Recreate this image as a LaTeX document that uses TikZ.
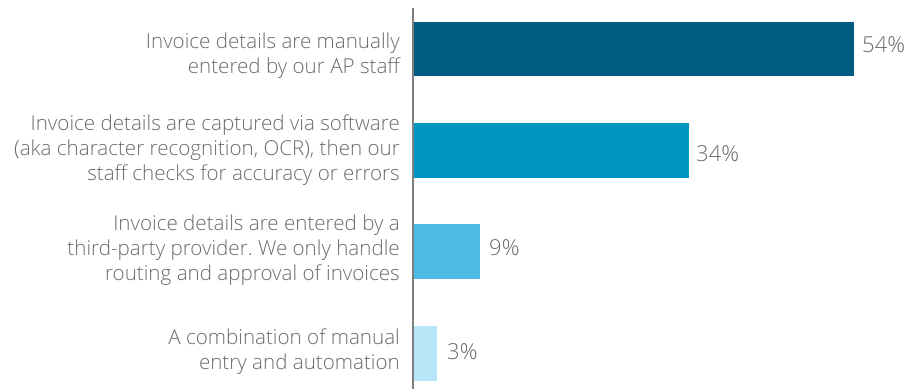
\documentclass[tikz,border=0pt]{standalone}
\usepackage{fontspec}
\setmainfont{Open Sans Light}
\frenchspacing
\definecolor{txt}{HTML}{6A6A6A}
\definecolor{axisgray}{HTML}{7F7F7F}
\definecolor{barA}{HTML}{005B82}
\definecolor{barB}{HTML}{0096C3}
\definecolor{barC}{HTML}{4DBAE4}
\definecolor{barD}{HTML}{B7E4F7}
\begin{document}
\begin{tikzpicture}[x=1pt,y=1pt,
  lbl/.style={anchor=north east,align=right,inner sep=0pt,text=txt,font=\fontsize{20.6}{25}\selectfont},
  pct/.style={anchor=base west,inner sep=0pt,text=txt,font=\fontsize{22}{26}\selectfont}]
\useasboundingbox (0,0) rectangle (912,389);
% bars
\fill[barA] (413,313) rectangle (854,367) coordinate (b1);
\fill[barB] (413,211) rectangle (689,266) coordinate (b2);
\fill[barC] (413,110) rectangle (480,165) coordinate (b3);
\fill[barD] (413,8) rectangle (437,63) coordinate (b4);
% axis
\coordinate (axtop) at (413,381);
\coordinate (axbot) at (413,0);
\draw[axisgray,line width=1.4pt] (axtop) -- (axbot);
% labels
\node[lbl] (l1) at (400,356.5) {Invoice details are manually\\entered by our AP staff};
\node[lbl] (l2) at (400,274.5) {Invoice details are captured via software\\(aka character recognition, OCR), then our\\staff checks for accuracy or errors};
\node[lbl] (l3) at (400,174) {Invoice details are entered by a\\third-party provider. We only handle\\routing and approval of invoices};
\node[lbl] (l4) at (400,60) {A combination of manual\\entry and automation};
% percentages
\node[pct] (p1) at (862,336) {54\%};
\node[pct] (p2) at (696,228) {34\%};
\node[pct] (p3) at (489,134) {9\%};
\node[pct] (p4) at (447,30) {3\%};
\end{tikzpicture}
\end{document}
